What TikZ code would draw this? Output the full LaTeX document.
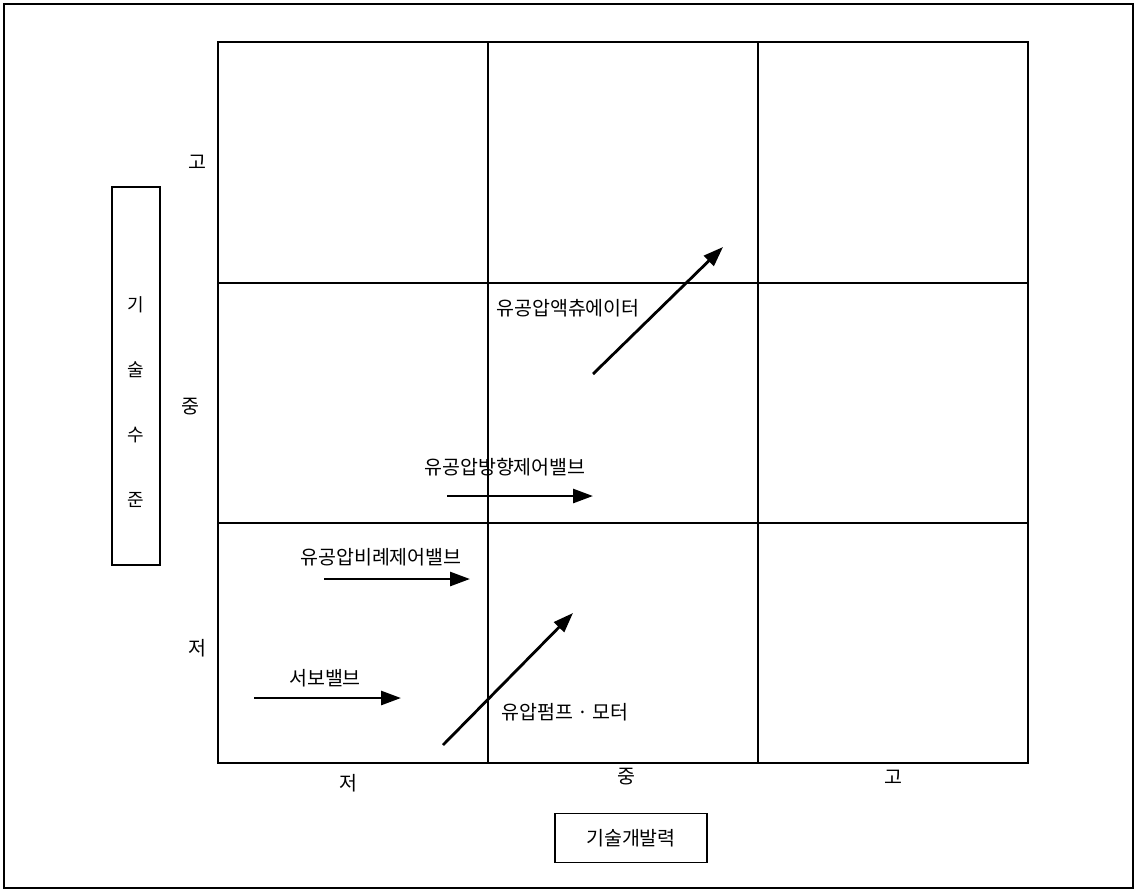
\documentclass[tikz,border=0pt]{standalone}
\usepackage{fontspec}
\setmainfont{Noto Sans CJK KR}
\usetikzlibrary{arrows.meta, positioning, calc}

\begin{document}
\begin{tikzpicture}[x=1pt, y=-1pt, >={Triangle[length=20pt, width=14pt]}, font=\fontsize{19.5}{23}\selectfont]
\tikzset{frame/.style={draw, line width=2pt}, cell/.style={line width=1.6pt}, trend/.style={->, line width=2.8pt}, tick/.style={inner sep=0pt}, axisbox/.style={draw, line width=1.8pt, inner sep=0pt}}
\useasboundingbox (0,0) rectangle (1140,892);
\draw[frame] (4,4) rectangle (1133,888);
% matrix
\draw[cell] (218,42) rectangle (1028,763);
\foreach \x in {488,758} \draw[cell] (\x,42) -- (\x,763);
\foreach \y in {283,523} \draw[cell] (218,\y) -- (1028,\y);
% axes
\node[axisbox, minimum width=48, minimum height=378] (level) at (136,376) {};
\node[tick, align=center, font=\fontsize{18}{65}\selectfont] (levelT) at (136,402) {기\\술\\수\\준};
\node[axisbox, minimum width=152, minimum height=49] (dev) at (631,838) {기술개발력};
\node[tick] (yH) at (197,162) {고}; \node[tick] (yM) at (190,407) {중}; \node[tick] (yL) at (197,648) {저};
\node[tick] (xL) at (348,783) {저}; \node[tick] (xM) at (626,777) {중}; \node[tick] (xH) at (893,777) {고};
% items
\coordinate (act1) at (593,374); \coordinate (act2) at (723,247);
\coordinate (dir1) at (447,496); \coordinate (dir2) at (593,496);
\coordinate (prop1) at (324,579); \coordinate (prop2) at (470,579);
\coordinate (servo1) at (254,698); \coordinate (servo2) at (401,698);
\coordinate (pump1) at (443,745); \coordinate (pump2) at (573,613);
\node[tick] (actL) at (568,308) {유공압액츄에이터};
\node[tick] (dirL) at (505,467) {유공압방향제어밸브};
\node[tick] (propL) at (381,557) {유공압비례제어밸브};
\node[tick] (servoL) at (325,678) {서보밸브};
\node[tick] (pumpL) at (565,712) {유압펌프 · 모터};
\draw[trend] (act1) -- (act2); \draw[trend] (dir1) -- (dir2); \draw[trend] (prop1) -- (prop2);
\draw[trend] (servo1) -- (servo2); \draw[trend] (pump1) -- (pump2);
\end{tikzpicture}
\end{document}
